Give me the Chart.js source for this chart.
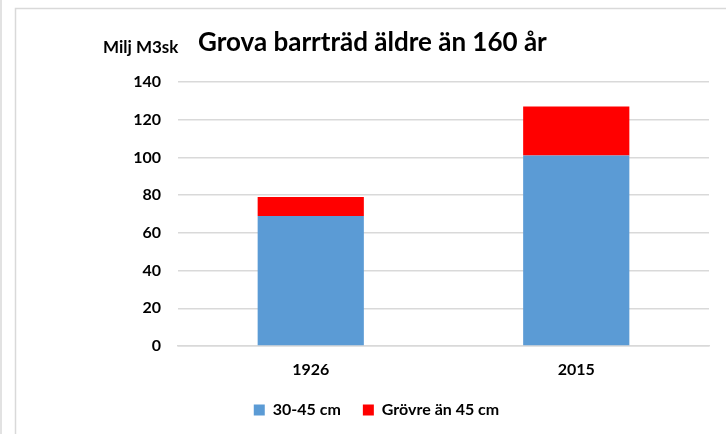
<!DOCTYPE html>
<html>
<head>
<meta charset="utf-8">
<script src="https://cdn.jsdelivr.net/npm/chart.js@4/dist/chart.umd.min.js"></script>
<style>
html,body{margin:0;padding:0;background:#fff;}
#wrap{width:726px;height:434px;position:relative;}
</style>
</head>
<body>
<div id="wrap"><canvas id="c" width="726" height="434"></canvas></div>
<script>
const categories = ['1926', '2015'];
const seriesNames = ['30-45 cm', 'Grövre än 45 cm'];
const values3045 = [69, 101];
const valuesOver45 = [10, 26];
const yTicks = [0, 20, 40, 60, 80, 100, 120, 140];
const titleText = 'Grova barrträd äldre än 160 år';
const unitText = 'Milj M3sk';

const FONT = 'Lato, "Liberation Sans", sans-serif';

const decor = {
  id: 'decor',
  beforeDraw(chart) {
    const ctx = chart.ctx;
    ctx.save();
    ctx.strokeStyle = '#d9d9d9';
    ctx.lineWidth = 1.5;
    ctx.beginPath();
    ctx.moveTo(1, 0); ctx.lineTo(1, 434);
    ctx.moveTo(15.5, 434); ctx.lineTo(15.5, 8.5); ctx.lineTo(726, 8.5);
    ctx.stroke();
    ctx.restore();
  },
  afterDraw(chart) {
    const ctx = chart.ctx;
    ctx.save();
    ctx.fillStyle = '#000';
    ctx.textBaseline = 'alphabetic';
    ctx.textAlign = 'left';
    ctx.font = 'bold 26px ' + FONT;
    ctx.fillText(titleText, 198, 51);
    ctx.font = 'bold 17px ' + FONT;
    ctx.fillText(unitText, 103, 53);
    ctx.restore();
  }
};

new Chart(document.getElementById('c'), {
  type: 'bar',
  data: {
    labels: categories,
    datasets: [
      { label: seriesNames[0], data: values3045, backgroundColor: '#5B9BD5', barPercentage: 0.8, categoryPercentage: 0.5 },
      { label: seriesNames[1], data: valuesOver45, backgroundColor: '#FF0000', barPercentage: 0.8, categoryPercentage: 0.5 }
    ]
  },
  options: {
    responsive: false,
    animation: false,
    layout: { padding: { left: 44, right: 17, top: 82, bottom: 6 } },
    scales: {
      x: {
        stacked: true,
        grid: { display: false, drawTicks: false },
        border: { color: '#d9d9d9', width: 1.5 },
        ticks: { color: '#000', font: { family: FONT, size: 16, weight: 'bold' }, padding: 14 },
        afterFit(s) { s.height = 34; }
      },
      y: {
        stacked: true,
        min: 0, max: 140,
        afterBuildTicks(s) { s.ticks = yTicks.map(v => ({ value: v })); },
        grid: { color: '#d9d9d9', lineWidth: 1.5, drawTicks: false },
        border: { display: false },
        ticks: { color: '#000', font: { family: FONT, size: 16, weight: 'bold' }, padding: 17 },
        afterFit(s) { s.width = 134; }
      }
    },
    plugins: {
      legend: {
        position: 'bottom',
        labels: {
          color: '#000',
          font: { family: FONT, size: 16, weight: 'bold' },
          boxWidth: 11, boxHeight: 11, padding: 22
        }
      },
      tooltip: { enabled: false }
    }
  },
  plugins: [decor]
});
</script>
</body>
</html>
